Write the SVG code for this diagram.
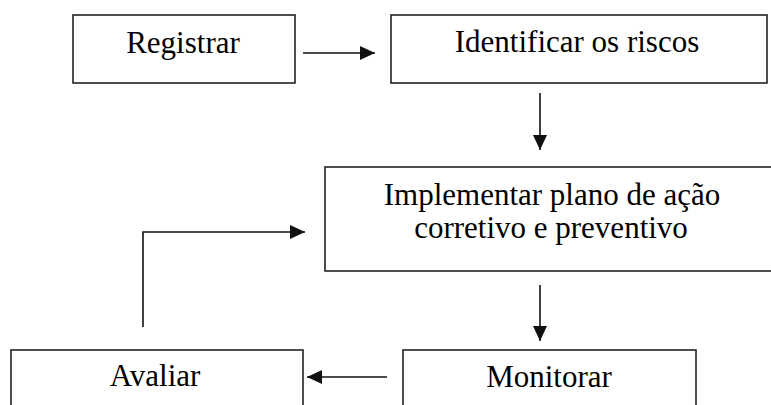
<svg xmlns="http://www.w3.org/2000/svg" width="771" height="405" viewBox="0 0 771 405">
<style>
.box{fill:#fff;stroke:#222;stroke-width:1.6}
.t{font-family:"Liberation Serif","Times New Roman",serif;font-size:31px;fill:#000;text-anchor:middle}
.c{fill:none;stroke:#111;stroke-width:1.6}
</style>
<defs>
<marker id="ah" markerWidth="15" markerHeight="14" refX="15" refY="7" orient="auto" markerUnits="userSpaceOnUse">
<path d="M0,0 L15,7 L0,14 Z" fill="#111"/>
</marker>
</defs>
<rect width="771" height="405" fill="#fff"/>
<g id="registrar">
<rect class="box" x="73" y="15" width="222" height="68"/>
<text class="t" x="183" y="53">Registrar</text>
</g>
<g id="identificar">
<rect class="box" x="391" y="15" width="376" height="68"/>
<text class="t" x="577" y="52">Identificar os riscos</text>
</g>
<g id="implementar">
<rect class="box" x="325" y="167" width="450" height="104"/>
<text class="t" x="552" y="205">Implementar plano de ação</text>
<text class="t" x="551" y="238">corretivo e preventivo</text>
</g>
<g id="avaliar">
<rect class="box" x="11" y="350" width="292" height="70"/>
<text class="t" x="155" y="386">Avaliar</text>
</g>
<g id="monitorar">
<rect class="box" x="403" y="350" width="293" height="70"/>
<text class="t" x="549" y="387">Monitorar</text>
</g>
<g id="connectors">
<path class="c" d="M303,53 L375,53" marker-end="url(#ah)"/>
<path class="c" d="M540,93 L540,150" marker-end="url(#ah)"/>
<path class="c" d="M540,285 L540,341" marker-end="url(#ah)"/>
<path class="c" d="M387,377 L307,377" marker-end="url(#ah)"/>
<path class="c" d="M143,327 L143,232 L305,232" marker-end="url(#ah)"/>
</g>
</svg>
